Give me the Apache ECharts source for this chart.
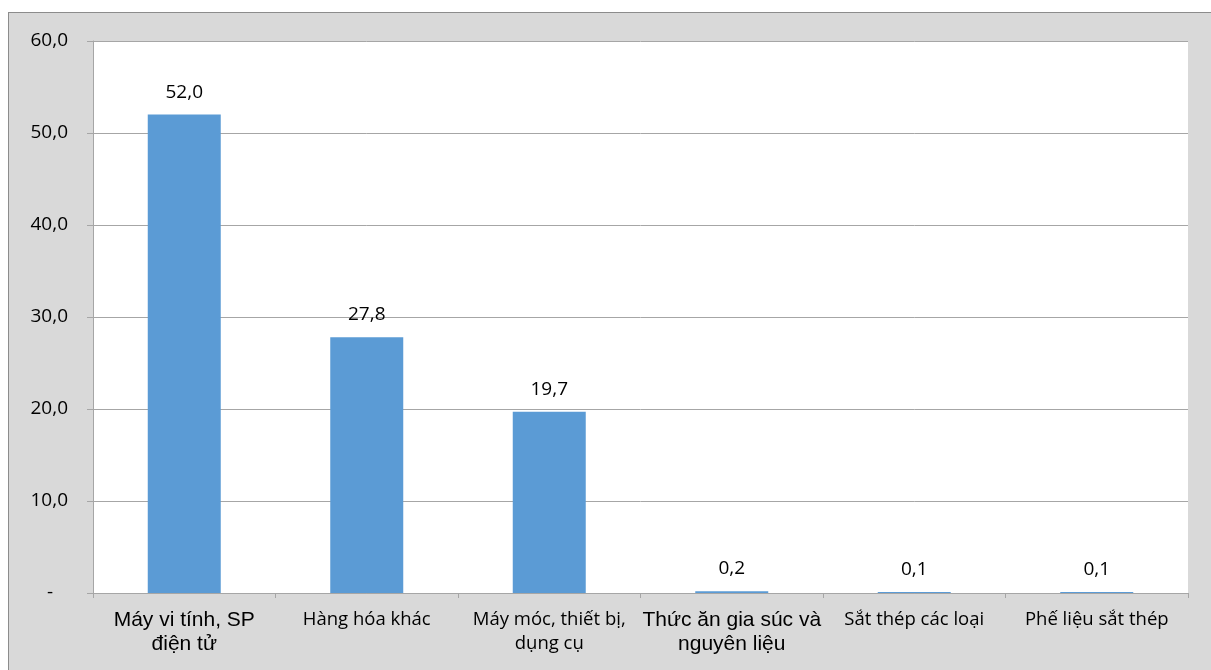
<!DOCTYPE html>
<html>
<head>
<meta charset="utf-8">
<script src="https://cdn.jsdelivr.net/npm/echarts@6/dist/echarts.min.js"></script>
<style>
html,body{margin:0;padding:0;background:#fff;overflow:hidden;width:1211px;height:670px;}
#wrap{position:absolute;left:8px;top:12px;width:1210px;height:665px;border:1px solid #8c8c8c;background:#d9d9d9;}
#chart{width:1210px;height:665px;}
</style>
</head>
<body>
<div id="wrap"><div id="chart"></div></div>
<script>
var categories = ['Máy vi tính, SP\nđiện tử', 'Hàng hóa khác', 'Máy móc, thiết bị,\ndụng cụ', 'Thức ăn gia súc và\nnguyên liệu', 'Sắt thép các loại', 'Phế liệu sắt thép'];
var values = [52.0, 27.8, 19.7, 0.2, 0.1, 0.1];
var labelFonts = ['arial', 'open', 'open', 'arial', 'open', 'open'];
var yMin = 0, yMax = 60, yStep = 10;

function fmt(v){ return v.toFixed(1).replace('.', ','); }

var chart = echarts.init(document.getElementById('chart'));
chart.setOption({
  animation: false,
  backgroundColor: 'transparent',
  grid: {left: 84, top: 28, width: 1095, height: 552, show: true, backgroundColor: '#fff', borderWidth: 0, containLabel: false},
  xAxis: {
    type: 'category',
    data: categories,
    axisLine: {show: true, lineStyle: {color: '#a6a6a6', width: 1}},
    axisTick: {show: true, length: 5, alignWithLabel: false, lineStyle: {color: '#a6a6a6'}},
    axisLabel: {
      interval: 0,
      margin: 15,
      formatter: function(v, i){
        var k = labelFonts[i];
        return v.split('\n').map(function(s){ return '{' + k + '|' + s + '}'; }).join('\n');
      },
      rich: {
        arial: {fontFamily: '"Liberation Sans", Arial, sans-serif', fontSize: 21, lineHeight: 24, color: '#000'},
        open: {fontFamily: '"Open Sans", sans-serif', fontSize: 18.5, lineHeight: 24, color: '#000'}
      }
    }
  },
  yAxis: {
    type: 'value',
    min: yMin, max: yMax, interval: yStep,
    axisLine: {show: true, lineStyle: {color: '#a6a6a6', width: 1}},
    axisTick: {show: true, length: 6, lineStyle: {color: '#a6a6a6'}},
    splitLine: {show: true, lineStyle: {color: '#a6a6a6', width: 1}},
    axisLabel: {
      margin: 25,
      fontFamily: '"Open Sans", sans-serif',
      fontSize: 19,
      color: '#000',
      formatter: function(v){ return v === 0 ? '-   ' : fmt(v); }
    }
  },
  series: [{
    type: 'bar',
    data: values,
    barWidth: '40%',
    itemStyle: {color: '#5b9bd5'},
    label: {
      show: true,
      position: 'top',
      distance: 13,
      fontFamily: '"Open Sans", sans-serif',
      fontSize: 19,
      color: '#000',
      formatter: function(p){ return fmt(p.value); }
    }
  }]
});
</script>
</body>
</html>
